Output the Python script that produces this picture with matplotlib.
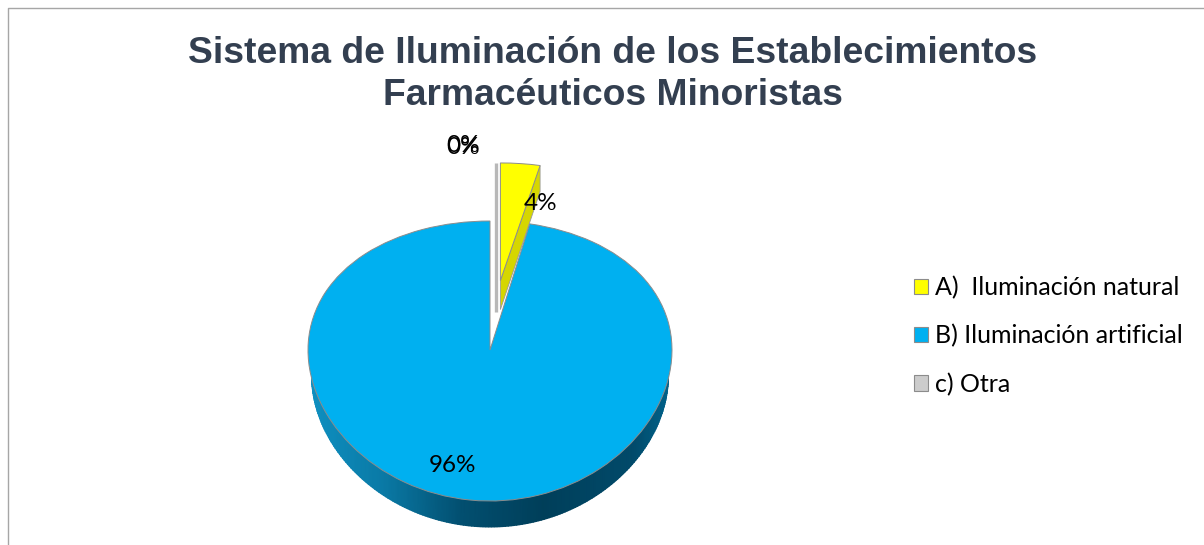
import matplotlib
matplotlib.use('Agg')
import matplotlib.pyplot as plt
import numpy as np
from matplotlib.colors import LinearSegmentedColormap
from matplotlib.patches import Patch, Polygon

title = 'Sistema de Iluminación de los Establecimientos\nFarmacéuticos Minoristas'
categories = ['A)  Iluminación natural', 'B) Iluminación artificial', 'c) Otra', '']
values = [3.5, 96.5, 0, 0]
colors = ['#ffff00', '#00b0f0', '#cccccc', '#cccccc']
explode = [0.52, 0, 0.52, 0.52]

W, H = 1204, 545
CX, CY = 490, 350   # pie centre in pixels
RX = 182
DEPTH = 26


# fake 3d tilt: far half of the pie is squashed, near half stretched
def tilt(y):
    y = np.asarray(y, dtype=float)
    return 140 * y - 11 * y ** 2


def untilt(v):
    v = np.asarray(v, dtype=float)
    return (140 - np.sqrt(np.clip(140 ** 2 - 44 * v, 0, None))) / 22


def to_x(px):
    return (px - CX) / RX


def to_y(py):
    return untilt(CY - py)


fig = plt.figure(figsize=(W / 100, H / 100), dpi=100)
ax = fig.add_axes([0, 0, 1, 1])

wedges, _ = ax.pie(values, colors=colors, explode=explode, startangle=90, counterclock=False,
                   radius=1, wedgeprops={'edgecolor': '#8c8c8c', 'linewidth': 0.7, 'zorder': 3})
for w, v in zip(wedges, values):
    if v == 0:
        w.set_linewidth(0)

ax.set_aspect('auto')
ax.set_yscale('function', functions=(tilt, untilt))
ax.set_xlim(to_x(0), to_x(W))
ax.set_ylim(to_y(H), to_y(0))
ax.axis('off')

# side wall of the big slice
theta = np.linspace(np.pi, 2 * np.pi, 200)
wall_x = 0.98 * np.cos(theta)
wall_low = untilt(tilt(np.sin(theta)) - DEPTH)
X = np.vstack([wall_x, wall_x])
Y = np.vstack([np.zeros_like(wall_x), wall_low])
C = np.vstack([wall_x, wall_x])
wall_cmap = LinearSegmentedColormap.from_list('wall', [
    (0.0, '#0e8fc0'), (0.2, '#0a7aa6'), (0.42, '#024f70'),
    (0.65, '#003f5a'), (0.9, '#014a6a'), (1.0, '#01628a')])
ax.pcolormesh(X, Y, C, shading='gouraud', cmap=wall_cmap, zorder=1)

# side wall of the pulled out slice
sweep = np.deg2rad(values[0] * 3.6)
mid = sweep / 2
apex_x = explode[0] * np.sin(mid)
apex_y = explode[0] * np.cos(mid)
tip_x = apex_x + np.sin(sweep)
tip_y = apex_y + np.cos(sweep)
wall_pts = [(apex_x, apex_y), (tip_x, tip_y),
            (tip_x, untilt(tilt(tip_y) - DEPTH)),
            (apex_x, untilt(tilt(apex_y) - 29))]
ax.add_patch(Polygon(wall_pts, closed=True, facecolor='#d6d600', edgecolor='#9a9a9a',
                     linewidth=0.6, zorder=2.5))

# the two empty slices only show up as a thin grey sliver
ax.plot([to_x(495.5), to_x(495.5)], [to_y(163), to_y(312)], color='#b8b8b8', lw=2.4,
        solid_capstyle='butt', zorder=2)

# frame of the original chart box
fig.add_artist(plt.Line2D([8 / W, 8 / W, 1], [0, 1 - 7.5 / H, 1 - 7.5 / H], color='#a6a6a6', lw=1))

fig.text(612.5 / W, 1 - 74.5 / H, title, ha='center', va='center', fontsize=26.85, fontweight='bold',
         family='Liberation Sans', color='#333f50', linespacing=1.25)

lab_font = {'family': 'Lato', 'fontsize': 17.5, 'color': 'black', 'ha': 'center', 'va': 'center'}
labels = [f'{v:.0f}%' for v in values]
# the two 0% labels sit almost on top of each other in the original
ax_text = [(541, 204), (452, 465), (463, 147), (463, 145)]
for s, (px, py) in zip(labels, ax_text):
    fig.text(px / W, 1 - py / H, s, **lab_font)

handles = [Patch(facecolor=c, edgecolor='#8c8c8c', linewidth=0.8) for c in colors[:3]]
fig.legend(handles, categories[:3], loc='upper left', bbox_to_anchor=(908.5 / W, 1 - 271 / H),
           frameon=False, prop={'family': 'Lato', 'size': 18}, handlelength=0.56, handleheight=0.56,
           handletextpad=0.3, labelspacing=1.0, borderpad=0.2, borderaxespad=0)

fig.savefig('out.png', dpi=100)
